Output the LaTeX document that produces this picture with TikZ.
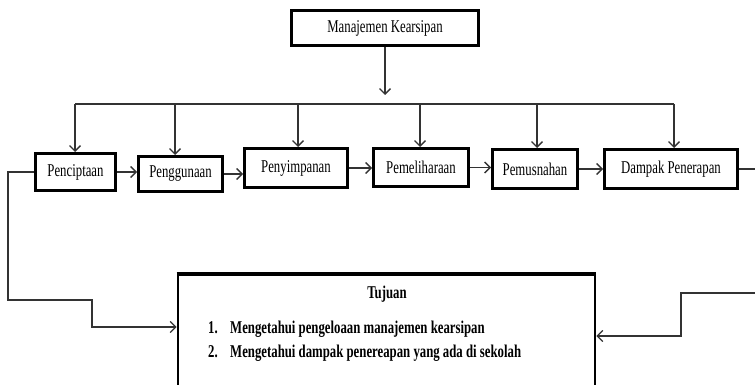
\documentclass[tikz,border=0pt]{standalone}
\usepackage{fontspec}
\setmainfont[FakeStretch=0.71]{Liberation Serif}
\usetikzlibrary{arrows.meta}
\definecolor{linec}{HTML}{333333}
\tikzset{
  x=1pt, y=-1pt,
  box/.style={draw=black, line width=3pt, fill=white, inner sep=0pt, font=\fontsize{18}{20}\selectfont},
  conn/.style={draw=linec, line width=1.3pt},
  arr/.style={conn, -{Straight Barb[length=5.5pt,width=11pt,line width=1.3pt]}},
  itemtxt/.style={font=\bfseries\fontsize{18}{20}\selectfont, inner sep=0pt, anchor=base west},
}
\begin{document}
\begin{tikzpicture}
\clip (0,0) rectangle (755,385);
\fill[white] (0,0) rectangle (755,385);
% boxes
\node[box, minimum width=187pt, minimum height=35pt] (top) at (385,28) {Manajemen Kearsipan};
\node[box, minimum width=80pt, minimum height=37pt] (n1) at (75.5,172) {Penciptaan};
\node[box, minimum width=84pt, minimum height=35pt] (n2) at (180.5,174) {Penggunaan};
\node[box, minimum width=103pt, minimum height=39pt] (n3) at (296,168) {Penyimpanan};
\node[box, minimum width=95pt, minimum height=38pt] (n4) at (421,167.5) {Pemeliharaan};
\node[box, minimum width=85pt, minimum height=39pt] (n5) at (535,169) {Pemusnahan};
\node[box, minimum width=133pt, minimum height=39pt] (n6) at (671,169) {Dampak Penerapan};
\node[draw=black, line width=2.8pt, minimum width=417pt, minimum height=114pt, inner sep=0pt] (tuj) at (386.5,332) {};
\draw[line width=4pt] (tuj.north west) -- (tuj.north east);
% text in Tujuan
\node[font=\bfseries\fontsize{18}{20}\selectfont, inner sep=0pt, anchor=base] (tt) at (387,298) {Tujuan};
\node[itemtxt] (i1n) at (208,333) {1.};
\node[itemtxt] (i1) at (230,333) {Mengetahui pengeloaan manajemen kearsipan};
\node[itemtxt] (i2n) at (208,357) {2.};
\node[itemtxt] (i2) at (230,357) {Mengetahui dampak penereapan yang ada di sekolah};
% top distribution
\coordinate (bar) at (386,95);
\coordinate (b1) at (75,104);
\coordinate (b2) at (175,104);
\coordinate (b3) at (298,104);
\coordinate (b4) at (420,104);
\coordinate (b5) at (537,104);
\coordinate (b6) at (674,104);
\draw[arr] (top.south |- 0,47) -- (top.south |- bar);
\draw[conn] (b1) -- (b6);
\draw[arr] (b1) -- (b1 |- n1.north);
\draw[arr] (b2) -- (b2 |- n2.north);
\draw[arr] (b3) -- (b3 |- n3.north);
\draw[arr] (b4) -- (b4 |- n4.north);
\draw[arr] (b5) -- (b5 |- n5.north);
\draw[arr] (b6) -- (b6 |- n6.north);
% row arrows
\draw[arr] (n1.east) -- (n1.east -| n2.west);
\draw[arr] (n2.east) -- (n2.east -| n3.west);
\draw[arr] (n3.east) -- (n3.east -| n4.west);
\draw[arr] (n4.east) -- (n4.east -| n5.west);
\draw[arr] (n5.east) -- (n5.east -| n6.west);
\coordinate (rout) at (760,169);
\draw[conn] (n6.east) -- (n6.east -| rout);
% left connector
\coordinate (l1) at (8,300);
\coordinate (l2) at (92,327);
\draw[arr] (n1.west) -- (n1.west -| l1) -- (l1) -- (l1 -| l2) -- (l2) -- (l2 -| tuj.west);
% right connector
\coordinate (r0) at (760,293);
\coordinate (r1) at (681,336);
\draw[arr] (r0) -- (r0 -| r1) -- (r1) -- (r1 -| tuj.east);
\end{tikzpicture}
\end{document}
